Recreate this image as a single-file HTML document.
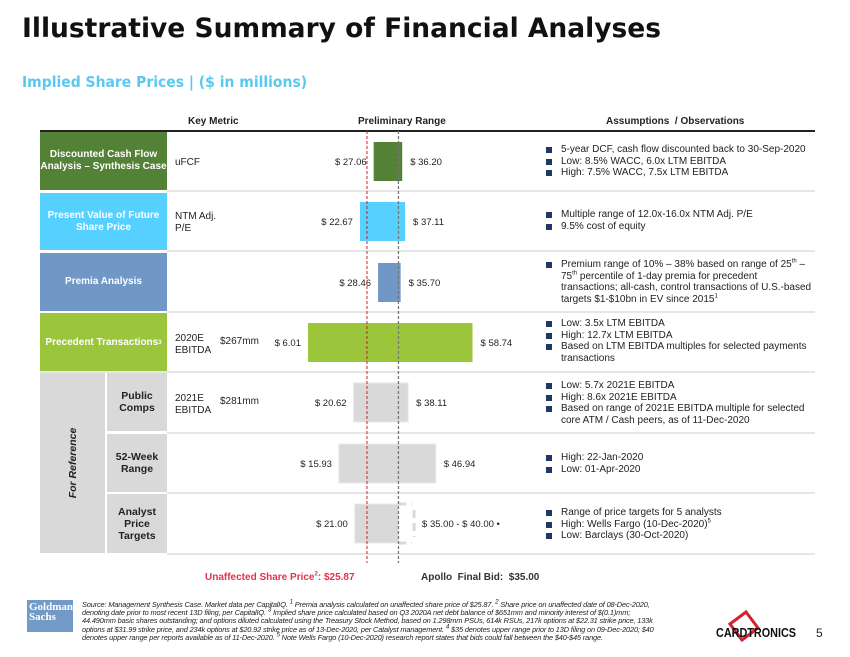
<!DOCTYPE html>
<html><head><meta charset="utf-8"><style>
body{margin:0;width:850px;height:657px;background:#fff;position:relative;overflow:hidden;font-family:"Liberation Sans",Arial,sans-serif;}
.a{position:absolute;}
.t{font-size:10px;color:#222;line-height:11.5px;white-space:nowrap;}
.lbl{position:absolute;color:#fff;font-weight:bold;font-size:10px;text-align:center;display:flex;align-items:center;justify-content:center;line-height:12px;}
.sub{position:absolute;background:#d9d9d9;color:#222;font-weight:bold;font-size:10.5px;text-align:center;display:flex;align-items:center;justify-content:center;line-height:12px;}
.sep{position:absolute;height:2px;background:#e6e6e6;}
ul{margin:0;padding:0;list-style:none;}
li{position:relative;padding-left:15px;font-size:10px;line-height:11.5px;color:#222;}
li:before{content:"";position:absolute;left:0;top:3px;width:6px;height:6px;background:#1f3864;}
sup{line-height:0;}
</style></head><body>
<div class="a" style="left:22px;top:13px;font-family:'DejaVu Sans',sans-serif;font-weight:bold;font-size:26.5px;color:#111;white-space:nowrap;">Illustrative Summary of Financial Analyses</div>
<div class="a" style="left:22px;top:73px;font-family:'DejaVu Sans Condensed','DejaVu Sans',sans-serif;font-weight:bold;font-size:15.5px;color:#5bc8f0;white-space:nowrap;">Implied Share Prices | ($ in millions)</div>

<div class="a t" style="left:188px;top:116px;font-weight:bold;">Key Metric</div>
<div class="a t" style="left:358px;top:116px;font-weight:bold;">Preliminary Range</div>
<div class="a t" style="left:606px;top:116px;font-weight:bold;">Assumptions &nbsp;/ Observations</div>
<div class="a" style="left:40px;top:130px;width:775px;height:2px;background:#222;"></div>

<div class="lbl" style="left:40px;top:132px;width:127px;height:58px;background:#538135;">Discounted Cash Flow<br>Analysis – Synthesis Case</div>
<div class="lbl" style="left:40px;top:193px;width:127px;height:57px;background:#55d0ff;">Present Value of Future<br>Share Price</div>
<div class="lbl" style="left:40px;top:253px;width:127px;height:58px;background:#7097c6;">Premia Analysis</div>
<div class="lbl" style="left:40px;top:313px;width:127px;height:59px;background:#9bc63c;">Precedent Transactions<sup style="font-size:6px">3</sup></div>
<div class="a" style="left:40px;top:373px;width:65px;height:180px;background:#d9d9d9;"></div>
<div class="a" style="left:73px;top:463px;transform:translate(-50%,-50%) rotate(-90deg);font-size:10.5px;font-weight:bold;font-style:italic;color:#222;white-space:nowrap;">For Reference</div>
<div class="sub" style="left:107px;top:373px;width:60px;height:58px;">Public<br>Comps</div>
<div class="sub" style="left:107px;top:434px;width:60px;height:58px;">52-Week<br>Range</div>
<div class="sub" style="left:107px;top:494px;width:60px;height:59px;">Analyst<br>Price<br>Targets</div>

<div class="sep" style="left:167px;top:190px;width:648px;"></div>
<div class="sep" style="left:167px;top:250px;width:648px;"></div>
<div class="sep" style="left:167px;top:311px;width:648px;"></div>
<div class="sep" style="left:40px;top:371px;width:775px;"></div>
<div class="sep" style="left:167px;top:432px;width:648px;"></div>
<div class="sep" style="left:167px;top:492px;width:648px;"></div>
<div class="sep" style="left:167px;top:553px;width:648px;"></div>

<div class="a t" style="left:175px;top:157px;">uFCF</div>
<div class="a t" style="left:175px;top:211px;">NTM Adj.<br>P/E</div>
<div class="a t" style="left:175px;top:333px;">2020E<br>EBITDA</div>
<div class="a t" style="left:220px;top:336px;">$267mm</div>
<div class="a t" style="left:175px;top:393px;">2021E<br>EBITDA</div>
<div class="a t" style="left:220px;top:396px;">$281mm</div>

<svg class="a" id="chart" style="left:0;top:0;" width="850" height="600"></svg>

<div class="a" style="left:546px;top:144px;"><ul><li>5-year DCF, cash flow discounted back to 30-Sep-2020</li><li>Low: 8.5% WACC, 6.0x LTM EBITDA</li><li>High: 7.5% WACC, 7.5x LTM EBITDA</li></ul></div>
<div class="a" style="left:546px;top:209px;"><ul><li>Multiple range of 12.0x-16.0x NTM Adj. P/E</li><li>9.5% cost of equity</li></ul></div>
<div class="a" style="left:546px;top:259px;width:275px;"><ul><li>Premium range of 10% – 38% based on range of 25<sup style="font-size:6px">th</sup> –<br>75<sup style="font-size:6px">th</sup> percentile of 1-day premia for precedent<br>transactions; all-cash, control transactions of U.S.-based<br>targets $1-$10bn in EV since 2015<sup style="font-size:6px">1</sup></li></ul></div>
<div class="a" style="left:546px;top:318px;width:262px;"><ul><li>Low: 3.5x LTM EBITDA</li><li>High: 12.7x LTM EBITDA</li><li>Based on LTM EBITDA multiples for selected payments transactions</li></ul></div>
<div class="a" style="left:546px;top:380px;width:268px;"><ul><li>Low: 5.7x 2021E EBITDA</li><li>High: 8.6x 2021E EBITDA</li><li>Based on range of 2021E EBITDA multiple for selected core ATM / Cash peers, as of 11-Dec-2020</li></ul></div>
<div class="a" style="left:546px;top:452px;"><ul><li>High: 22-Jan-2020</li><li>Low: 01-Apr-2020</li></ul></div>
<div class="a" style="left:546px;top:507px;"><ul><li>Range of price targets for 5 analysts</li><li>High: Wells Fargo (10-Dec-2020)<sup style="font-size:6px">5</sup></li><li>Low: Barclays (30-Oct-2020)</li></ul></div>

<div class="a" style="left:205px;top:572px;font-size:10px;font-weight:bold;color:#e0344e;white-space:nowrap;">Unaffected Share Price<sup style="font-size:6px">2</sup>: $25.87</div>
<div class="a" style="left:421px;top:572px;font-size:10px;font-weight:bold;color:#333;white-space:nowrap;">Apollo &nbsp;Final Bid: &nbsp;$35.00</div>

<div class="a" style="left:27px;top:600px;width:46px;height:32px;background:#7399c6;color:#fff;font-family:'Liberation Serif',serif;font-weight:bold;font-size:11px;line-height:10px;padding:2px 0 0 2px;box-sizing:border-box;">Goldman<br>Sachs</div>
<div class="a" style="left:82px;top:601px;font-size:7.4px;line-height:8.2px;letter-spacing:-0.15px;font-style:italic;color:#222;white-space:nowrap;">Source: Management Synthesis Case. Market data per CapitalIQ. <sup>1</sup> Premia analysis calculated on unaffected share price of $25.87. <sup>2</sup> Share price on unaffected date of 08-Dec-2020,<br>denoting date prior to most recent 13D filing, per CapitalIQ. <sup>3</sup> Implied share price calculated based on Q3 2020A net debt balance of $651mm and minority interest of $(0.1)mm;<br>44.490mm basic shares outstanding; and options diluted calculated using the Treasury Stock Method, based on 1.298mm PSUs, 614k RSUs, 217k options at $22.31 strike price, 133k<br>options at $31.99 strike price, and 234k options at $20.92 strike price as of 13-Dec-2020, per Catalyst management. <sup>4</sup> $35 denotes upper range prior to 13D filing on 09-Dec-2020; $40<br>denotes upper range per reports available as of 11-Dec-2020. <sup>5</sup> Note Wells Fargo (10-Dec-2020) research report states that bids could fall between the $40-$45 range.</div>
<svg class="a" style="left:712px;top:610px;" width="90" height="34"><polygon points="18,14 34,2 46,18 30,30" fill="none" stroke="#d8202e" stroke-width="3"/><text x="4" y="27" font-family="Liberation Sans,sans-serif" font-weight="bold" font-size="13" fill="#111" textLength="80" lengthAdjust="spacingAndGlyphs">CARDTRONICS</text></svg>
<div class="a" style="left:816px;top:626px;font-size:12px;color:#222;">5</div>

<script>
const categories = ["DCF","PV Future Share Price","Premia","Precedent Transactions","Public Comps","52-Week Range","Analyst Price Targets"];
const lowValues = [27.06, 22.67, 28.46, 6.01, 20.62, 15.93, 21.00];
const highValues = [36.20, 37.11, 35.70, 58.74, 38.11, 46.94, 35.00];
const highLabels = ["$ 36.20","$ 37.11","$ 35.70","$ 58.74","$ 38.11","$ 46.94","$ 35.00 - $ 40.00 \u2022"];
const lowLabels = ["$ 27.06","$ 22.67","$ 28.46","$ 6.01","$ 20.62","$ 15.93","$ 21.00"];
const analystUpper = [40.00];
const unaffectedPrice = [25.87];
const apolloBid = [35.00];
const colors = ["#538135","#55d0ff","#7097c6","#9bc63c","#d9d9d9","#d9d9d9","#d9d9d9"];
const rowTop = [142,202,263,323,383,444,504];
const barH = 39;
function x(v){return 308 + (v - 6.01) * 3.12;}
const svg = document.getElementById('chart');
const NS = 'http://www.w3.org/2000/svg';
function mk(tag, attrs){const e=document.createElementNS(NS,tag);for(const k in attrs)e.setAttribute(k,attrs[k]);svg.appendChild(e);return e;}
categories.forEach((c,i)=>{
  const r = mk('rect',{x:x(lowValues[i]),y:rowTop[i],width:x(highValues[i])-x(lowValues[i]),height:barH,fill:colors[i],stroke:i>=4?'#e8e8e8':'none'});
  
  
  const lt = mk('text',{x:x(lowValues[i])-7,y:rowTop[i]+barH/2+3.5,'text-anchor':'end','font-size':'9.5','font-family':'Liberation Sans,sans-serif',fill:'#222'});
  lt.textContent = lowLabels[i];
  
  
  let hx = x(highValues[i]) + 8;
  if(i===6) hx = x(analystUpper[0]) + 8;
  const ht = mk('text',{x:hx,y:rowTop[i]+barH/2+3.5,'font-size':'9.5','font-family':'Liberation Sans,sans-serif',fill:'#222'});
  ht.textContent = highLabels[i];
  
  
});
const ay = rowTop[6];
const br = mk('path',{d:`M${x(highValues[6])} ${ay} H${x(analystUpper[0])-2} M${x(analystUpper[0])} ${ay+6} V${ay+barH-6} M${x(highValues[6])} ${ay+barH} H${x(analystUpper[0])-2}`,stroke:'#d9d9d9','stroke-width':'3','stroke-dasharray':'8,5',fill:'none'});


const l1 = mk('line',{x1:x(unaffectedPrice[0])-3,x2:x(unaffectedPrice[0])-3,y1:131,y2:563,stroke:'#c8202e','stroke-width':'1','stroke-dasharray':'3,2'});


const l2 = mk('line',{x1:x(apolloBid[0]),x2:x(apolloBid[0]),y1:131,y2:563,stroke:'#777','stroke-width':'1.3','stroke-dasharray':'3,2'});


</script>
</body></html>
